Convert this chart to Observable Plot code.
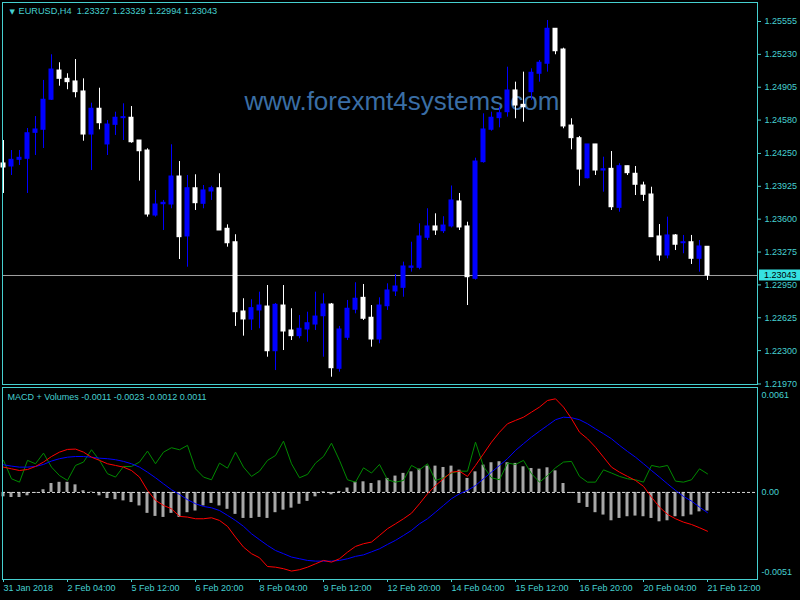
<!DOCTYPE html>
<html>
<head>
<meta charset="utf-8">
<script src="https://cdn.jsdelivr.net/npm/d3@7"></script>
<script src="https://cdn.jsdelivr.net/npm/@observablehq/plot@0.6"></script>
<style>
  html, body { margin: 0; padding: 0; background: #000; }
  #chart { position: relative; width: 800px; height: 600px; background: #000; overflow: hidden; }
  #chart > div { position: absolute; left: 0; }
  #chart svg { overflow: visible; }
  #chart text { white-space: pre; }
  #macd g[aria-label^="x-axis"] text { text-anchor: start; }
</style>
</head>
<body>
<div id="chart"><div id="price" style="top:0"></div><div id="macd" style="top:385px"></div></div>
<script>
// EURUSD H4 candles, 31 Jan 2018 20:00 .. 21 Feb 2018 12:00
const symbol = "EURUSD,H4";
const watermark = "www.forexmt4systems.com";

const open = [1.24151,1.24121,1.24187,1.24197,1.24454,1.24484,1.24781,1.25070,1.24988,1.24962,
  1.24863,1.24437,1.24692,1.24339,1.24533,1.24599,1.24603,1.24378,1.24279,1.23636,
  1.23748,1.23745,1.24022,1.23429,1.23906,1.23752,1.23874,1.23906,1.23505,1.23372,
  1.22687,1.22608,1.22697,1.22736,1.22294,1.22746,1.22499,1.22443,1.22509,1.22558,
  1.22640,1.22756,1.22120,1.22427,1.22704,1.22822,1.22625,1.22410,1.22739,1.22885,
  1.22921,1.23119,1.23119,1.23416,1.23528,1.23481,1.23528,1.23775,1.23528,1.23010,
  1.24164,1.24484,1.24599,1.24658,1.24873,1.24731,1.24856,1.25038,1.25137,1.25483,
  1.25278,1.24526,1.24401,1.24005,1.24339,1.24081,1.24098,1.23712,1.24124,1.24049,
  1.23933,1.23844,1.23429,1.23241,1.23439,1.23362,1.23372,1.23208,1.23327];
const high = [1.24378,1.24279,1.24279,1.24497,1.24615,1.24972,1.25226,1.25147,1.25038,1.25179,
  1.24988,1.24747,1.24895,1.24576,1.24658,1.24741,1.24714,1.24378,1.24296,1.23884,
  1.23785,1.24336,1.24170,1.24032,1.24039,1.23933,1.23926,1.24049,1.23544,1.23446,
  1.22813,1.22803,1.22878,1.22944,1.22766,1.22944,1.22714,1.22647,1.22680,1.22878,
  1.22862,1.22766,1.22539,1.22796,1.22971,1.22954,1.22746,1.22822,1.22961,1.23053,
  1.23175,1.23372,1.23554,1.23703,1.23653,1.23624,1.23928,1.23854,1.23570,1.24203,
  1.24642,1.24658,1.24707,1.25103,1.24955,1.25054,1.25087,1.25169,1.25565,1.25483,
  1.25291,1.24593,1.24418,1.24339,1.24339,1.24213,1.24269,1.24148,1.24124,1.24121,
  1.23966,1.23916,1.23547,1.23620,1.23448,1.23439,1.23439,1.23389,1.23329];
const low = [1.23854,1.24032,1.24131,1.23854,1.24230,1.24299,1.24774,1.24915,1.24880,1.24800,
  1.24371,1.24081,1.24484,1.24230,1.24428,1.24378,1.24351,1.23976,1.23620,1.23620,
  1.23488,1.23703,1.23201,1.23125,1.23686,1.23703,1.23785,1.23488,1.23323,1.22539,
  1.22443,1.22499,1.22516,1.22235,1.22103,1.22301,1.22400,1.22417,1.22383,1.22499,
  1.22235,1.22037,1.22087,1.22400,1.22664,1.22598,1.22334,1.22368,1.22697,1.22835,
  1.22828,1.23076,1.23099,1.23389,1.23439,1.23458,1.23513,1.23488,1.22746,1.22997,
  1.24154,1.24470,1.24504,1.24609,1.24593,1.24559,1.24774,1.24955,1.25054,1.25226,
  1.24494,1.24286,1.23926,1.23999,1.24032,1.23867,1.23686,1.23669,1.24032,1.23834,
  1.23775,1.23422,1.23184,1.23208,1.23290,1.23258,1.23152,1.23076,1.22994];
const close = [1.24111,1.24187,1.24207,1.24450,1.24487,1.24781,1.25080,1.24988,1.24955,1.24856,
  1.24437,1.24692,1.24549,1.24536,1.24603,1.24609,1.24361,1.24272,1.23646,1.23745,
  1.23762,1.24022,1.23422,1.23906,1.23758,1.23884,1.23906,1.23488,1.23362,1.22680,
  1.22608,1.22720,1.22746,1.22294,1.22753,1.22489,1.22443,1.22516,1.22571,1.22637,
  1.22756,1.22126,1.22509,1.22714,1.22813,1.22615,1.22410,1.22746,1.22895,1.22934,
  1.23132,1.23132,1.23429,1.23528,1.23488,1.23537,1.23785,1.23518,1.23026,1.24170,
  1.24487,1.24603,1.24648,1.24873,1.24724,1.24707,1.25048,1.25147,1.25483,1.25261,
  1.24517,1.24401,1.24091,1.24339,1.24081,1.24094,1.23718,1.24124,1.24055,1.23940,
  1.23841,1.23422,1.23241,1.23439,1.23347,1.23372,1.23208,1.23330,1.23043];

// "MACD + Volumes" sub-window buffers
const macdHist = [-0.00026,-0.0003,-0.0003,-0.0002,-0.00005,0.00016,0.00053,0.0006,0.0006,0.00045,
  0.0001,0.00002,-0.0002,-0.00036,-0.00043,-0.0005,-0.0006,-0.0008,-0.00124,-0.00142,
  -0.00148,-0.00124,-0.00148,-0.0012,-0.0011,-0.0008,-0.00065,-0.0008,-0.001,-0.0013,
  -0.00154,-0.00154,-0.00148,-0.00154,-0.0012,-0.00105,-0.00093,-0.0007,-0.00053,-0.00026,
  0.00004,-0.00014,0.00006,0.00026,0.0006,0.00063,0.00053,0.00069,0.00083,0.00097,
  0.00113,0.00122,0.00138,0.00156,0.00156,0.00148,0.00156,0.00132,0.00083,0.00122,
  0.00162,0.00176,0.00182,0.00176,0.00172,0.00152,0.00142,0.00138,0.00146,0.00128,
  0.00053,-0.00006,-0.00065,-0.00089,-0.0012,-0.00134,-0.00168,-0.00154,-0.00144,-0.0014,
  -0.00144,-0.00154,-0.00174,-0.00168,-0.00144,-0.00144,-0.00134,-0.00115,-0.0011];
const macdMain = [0.0015,0.0014,0.0013,0.00136,0.00154,0.0018,0.00213,0.00239,0.00255,0.00257,
  0.00239,0.00209,0.0019,0.0017,0.0016,0.0015,0.0013,0.00091,0.00012,-0.00047,
  -0.00077,-0.00097,-0.00142,-0.00146,-0.00156,-0.00156,-0.0015,-0.00166,-0.00201,-0.00265,
  -0.00324,-0.00363,-0.00387,-0.00439,-0.00443,-0.00452,-0.00466,-0.00458,-0.00443,-0.00423,
  -0.00403,-0.00413,-0.00393,-0.00354,-0.0032,-0.00304,-0.00294,-0.00255,-0.00215,-0.00186,
  -0.00156,-0.00123,-0.00067,-0.00008,0.00041,0.00081,0.0012,0.00126,0.00095,0.0016,
  0.00229,0.00298,0.00357,0.00407,0.00427,0.00446,0.00476,0.00506,0.00545,0.00555,
  0.00506,0.00437,0.00357,0.00318,0.00268,0.00209,0.0015,0.0012,0.00095,0.00071,
  0.00036,-0.00028,-0.00087,-0.0013,-0.00156,-0.00176,-0.0019,-0.00209,-0.0023];
const macdSignal = [0.00164,0.00156,0.0015,0.0015,0.00154,0.00166,0.00186,0.002,0.00209,0.00213,
  0.00213,0.00209,0.00203,0.002,0.00194,0.00184,0.0017,0.0015,0.0012,0.00087,
  0.00051,0.00016,-0.00012,-0.00043,-0.00067,-0.00083,-0.00091,-0.00107,-0.00136,-0.00166,
  -0.00201,-0.00245,-0.0028,-0.00314,-0.00344,-0.00363,-0.00383,-0.00393,-0.00403,-0.00407,
  -0.00407,-0.00407,-0.00403,-0.00393,-0.00379,-0.0037,-0.00352,-0.00334,-0.00308,-0.00284,
  -0.00255,-0.00225,-0.00186,-0.00156,-0.00117,-0.00077,-0.00037,-0.00008,0.00012,0.00041,
  0.00081,0.0012,0.0016,0.002,0.00249,0.00289,0.00328,0.00363,0.00397,0.00431,
  0.00446,0.00443,0.00431,0.00407,0.00377,0.00348,0.00318,0.00279,0.00243,0.00209,
  0.0017,0.0013,0.00091,0.00051,0.00012,-0.00024,-0.00051,-0.00087,-0.0012];
const volumeLine = [0.0019,0.00081,0.00061,0.0019,0.0017,0.00233,0.0015,0.001,0.00071,0.0016,
  0.0018,0.00253,0.0019,0.00111,0.00091,0.00154,0.00154,0.0018,0.00245,0.0017,
  0.00239,0.00265,0.00253,0.00279,0.0014,0.00091,0.00075,0.00174,0.00144,0.00239,
  0.0015,0.00095,0.00126,0.0019,0.00219,0.00304,0.0017,0.00087,0.00107,0.00174,
  0.00213,0.00292,0.0019,0.00075,0.00061,0.00146,0.00115,0.00166,0.00075,0.00061,
  0.00071,0.0016,0.00134,0.0017,0.00071,0.00087,0.00115,0.00126,0.00126,0.00298,
  0.00154,0.00087,0.00075,0.00174,0.00166,0.0019,0.00111,0.00061,0.001,0.00146,
  0.0018,0.00184,0.00095,0.00061,0.00061,0.00134,0.00115,0.00095,0.00081,0.00075,
  0.00061,0.0016,0.0015,0.0016,0.00067,0.00061,0.00075,0.0014,0.0011];

// time axis: one label every 8 bars (32 hours)
const timeTickBars = [0, 8, 16, 24, 32, 40, 48, 56, 64, 72, 80, 88];
const timeTickLabels = ["31 Jan 2018", "2 Feb 04:00", "5 Feb 12:00", "6 Feb 20:00", "8 Feb 04:00",
  "9 Feb 12:00", "12 Feb 20:00", "14 Feb 04:00", "15 Feb 12:00", "16 Feb 20:00", "20 Feb 04:00", "21 Feb 12:00"];
const priceTicks = [1.25555, 1.25230, 1.24905, 1.24580, 1.24250, 1.23925, 1.23600, 1.23275,
  1.22950, 1.22625, 1.22300, 1.21970];
const macdScaleMax = 0.0061;
const macdScaleMin = -0.0051;

// ---- styling ----
const AXIS = "#46d0d0";
const BULL = "#0000ff";
const BEAR = "#ffffff";
const FONT = "'Liberation Sans', Arial, 'DejaVu Sans', sans-serif";
const xDomain = [-0.125, 94.25];

const bars = open.map((o, i) => ({i, o, h: high[i], l: low[i], c: close[i], up: close[i] > open[i]}));
const last = bars[bars.length - 1];
const f5 = v => v.toFixed(5);
const f4 = v => v.toFixed(4);

const header = `${symbol}  ${f5(last.o)} ${f5(last.h)} ${f5(last.l)} ${f5(last.c)}`;
const n = macdHist.length - 1;
const macdTitle = `MACD + Volumes ${f4(macdHist[n])} ${f4(macdMain[n])} ${f4(macdSignal[n])} ${f4(volumeLine[n])}`;

// ---- price window ----
const pricePlot = Plot.plot({
  width: 800, height: 390,
  marginLeft: 2, marginRight: 43, marginTop: 2, marginBottom: 6,
  style: {background: "transparent", color: AXIS, fontFamily: FONT, fontSize: "9px", overflow: "visible"},
  x: {domain: xDomain, axis: null},
  y: {domain: [1.219649, 1.257429], axis: "right", ticks: priceTicks, tickFormat: f5,
      tickSize: 3, tickPadding: 4, label: null},
  marks: [
    Plot.text([watermark], {frameAnchor: "top", lineAnchor: "middle", dx: 22, dy: 99, fontSize: 26, fill: "#3a6ea5", fontFamily: FONT}),
    Plot.ruleY([last.c], {stroke: "#a0a0a0"}),
    Plot.ruleX(bars, {x: "i", y1: "l", y2: "h", stroke: d => d.up ? BULL : BEAR}),
    Plot.rect(bars, {x1: d => d.i - 0.3125, x2: d => d.i + 0.3125, y1: "o", y2: "c",
      fill: d => d.up ? BULL : BEAR, insetTop: -0.5, insetBottom: -0.5}),
    Plot.frame({stroke: AXIS}),
    Plot.text(["\u25BC"], {frameAnchor: "top-left", lineAnchor: "middle", dx: 7, dy: 9, fontSize: 7, fill: AXIS, fontFamily: "DejaVu Sans"}),
    Plot.text([header], {frameAnchor: "top-left", lineAnchor: "middle", dx: 16, dy: 9, textAnchor: "start", fontSize: 9.2, fill: AXIS}),
    // current price marker on the price scale
    (index, scales, values, dimensions) => {
      const yy = scales.y(last.c);
      const x0 = dimensions.width - dimensions.marginRight + 2;
      const g = d3.create("svg:g");
      g.append("rect").attr("x", x0).attr("y", yy - 5.5).attr("width", dimensions.marginRight - 2)
        .attr("height", 11).attr("fill", "#36e2e2");
      g.append("text").attr("x", x0 + 5).attr("y", yy).attr("dy", "0.35em").attr("text-anchor", "start")
        .attr("fill", "#000").attr("font-size", 9).attr("font-family", FONT).text(f5(last.c));
      return g.node();
    }
  ]
});
document.getElementById("price").append(pricePlot);

// ---- MACD window ----
const macdRows = macdHist.map((h, i) => ({i, h, m: macdMain[i], s: macdSignal[i], v: volumeLine[i]}));
const macdPlot = Plot.plot({
  width: 800, height: 215,
  marginLeft: 2, marginRight: 43, marginTop: 2, marginBottom: 21,
  style: {background: "transparent", color: AXIS, fontFamily: FONT, fontSize: "9px", overflow: "visible"},
  x: {domain: xDomain, axis: "bottom", ticks: timeTickBars, tickSize: 3, tickPadding: 2, label: null,
      tickFormat: d => timeTickLabels[timeTickBars.indexOf(d)]},
  y: {domain: [-0.00516, 0.00622], axis: null},
  marks: [
    Plot.rect(macdRows, {x1: d => d.i - 0.1875, x2: d => d.i + 0.1875, y1: 0, y2: "h", fill: "#a8a8a8"}),
    Plot.ruleY([0], {stroke: "#d8d8d8", strokeDasharray: "3,2"}),
    Plot.line(macdRows, {x: "i", y: "v", stroke: "#008a00", strokeWidth: 1}),
    Plot.line(macdRows, {x: "i", y: "s", stroke: "#0000ff", strokeWidth: 1}),
    Plot.line(macdRows, {x: "i", y: "m", stroke: "#ff0000", strokeWidth: 1}),
    Plot.frame({stroke: AXIS}),
    Plot.text([macdTitle], {frameAnchor: "top-left", lineAnchor: "middle", dx: 5, dy: 10, textAnchor: "start", fontSize: 9, fill: AXIS}),
    Plot.text([macdScaleMax], {frameAnchor: "top-right", lineAnchor: "middle", dx: 4, dy: 8, textAnchor: "start", fontSize: 9, fill: AXIS, text: d => f4(d)}),
    Plot.text([0], {y: d => d, frameAnchor: "right", dx: 4, textAnchor: "start", fontSize: 9, fill: AXIS, text: () => "0.00"}),
    Plot.text([macdScaleMin], {frameAnchor: "bottom-right", lineAnchor: "middle", dx: 4, dy: -7, textAnchor: "start", fontSize: 9, fill: AXIS, text: d => f4(d)})
  ]
});
document.getElementById("macd").append(macdPlot);
</script>
</body>
</html>
